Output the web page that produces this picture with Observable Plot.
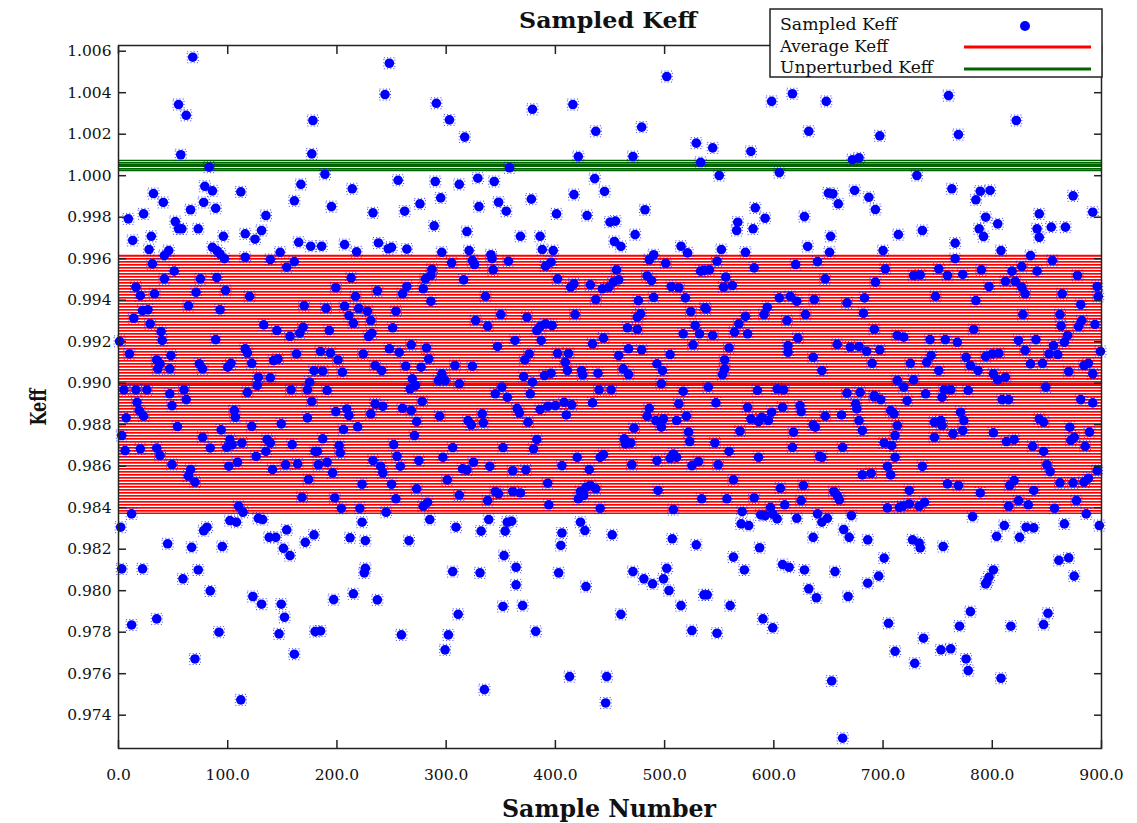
<!DOCTYPE html>
<html><head><meta charset="utf-8">
<script src="https://cdn.jsdelivr.net/npm/d3@7"></script>
<script src="https://cdn.jsdelivr.net/npm/@observablehq/plot@0.6"></script>
<style>
body{margin:0;background:#fff;}
#chart{position:relative;width:1137px;height:823px;}
</style></head><body><div id="chart"></div>
<script>
// [sample number, sampled Keff]
const samples = [
[68,1.00571],[55,1.00343],[62,1.00291],[57,1.00101],[83,1.00041],[178,1.00266],[177,1.00105],
[32,0.99914],[41,0.99871],[79,0.99949],[86,0.99927],[112,0.99922],[167,0.99958],[161,0.99879],[78,0.99871],[89,0.99843],[66,0.99836],[9,0.99792],[23,0.99816],[135,0.99808],[52,0.99779],[55,0.99744],[58,0.99744],[73,0.99744],[30,0.99708],[13,0.99688],[96,0.99708],[116,0.99720],[125,0.99694],[131,0.99736],[165,0.99679],[176,0.99660],[28,0.99644],[46,0.99639],[42,0.99615],[86,0.99655],[90,0.99639],[93,0.99623],[97,0.99600],[116,0.99607],[139,0.99596],[148,0.99631],[154,0.99559],[161,0.99586],[31,0.99575],[51,0.99540],[42,0.99503],[75,0.99503],[90,0.99509],[16,0.99463],[20,0.99422],[33,0.99431],[71,0.99438],[98,0.99447],[120,0.99418],[64,0.99373],[93,0.99354],[170,0.99373],[22,0.99350],[27,0.99354],[14,0.99313],[29,0.99286],[39,0.99249],[40,0.99206],[1,0.99202],[89,0.99210],[133,0.99281],[145,0.99254],[157,0.99226],[166,0.99241],[169,0.99270],[10,0.99141],[48,0.99133],[116,0.99166],[118,0.99146],[163,0.99141],[35,0.99112],[38,0.99093],[36,0.99069],[47,0.99069],[74,0.99093],[77,0.99069],[100,0.99077],[103,0.99096],[122,0.99096],[142,0.99109],[146,0.99117],[128,0.99029],[139,0.99026],[127,0.98989],[175,0.99005],[179,0.99061],[5,0.98968],[16,0.98968],[26,0.98968],[47,0.98949],[60,0.98968],[118,0.98956],[158,0.98968],[173,0.98968],
[248,1.00542],[244,1.00391],[291,1.00349],[303,1.00269],[317,1.00186],[189,1.00007],[358,1.00038],[214,0.99937],[256,0.99978],[290,0.99972],[312,0.99958],[329,0.99988],[344,0.99972],[295,0.99893],[195,0.99851],[233,0.99821],[262,0.99829],[276,0.99864],[330,0.99851],[348,0.99872],[355,0.99829],[289,0.99758],[319,0.99731],[186,0.99660],[207,0.99668],[218,0.99633],[238,0.99676],[247,0.99648],[250,0.99655],[264,0.99646],[296,0.99631],[321,0.99639],[341,0.99619],[342,0.99600],[305,0.99580],[324,0.99591],[326,0.99572],[357,0.99588],[287,0.99549],[286,0.99519],[281,0.99503],[343,0.99546],[213,0.99508],[316,0.99498],[199,0.99460],[237,0.99445],[264,0.99466],[260,0.99431],[279,0.99455],[217,0.99418],[286,0.99395],[336,0.99418],[190,0.99361],[207,0.99371],[211,0.99326],[215,0.99289],[220,0.99360],[228,0.99347],[231,0.99302],[254,0.99347],[350,0.99331],[327,0.99302],[338,0.99275],[251,0.99267],[193,0.99254],[232,0.99241],[229,0.99225],[347,0.99177],[185,0.99153],[194,0.99146],[201,0.99112],[224,0.99141],[248,0.99166],[257,0.99149],[268,0.99185],[282,0.99170],[284,0.99117],[187,0.99058],[205,0.99053],[235,0.99085],[241,0.99061],[263,0.99082],[277,0.99077],[308,0.99085],[324,0.99082],[269,0.99021],[272,0.98989],[267,0.98973],[296,0.99045],[299,0.99013],[293,0.99013],[312,0.98997],[191,0.98965],[351,0.98981],[345,0.98949],
[502,1.00478],[379,1.00320],[416,1.00343],[437,1.00214],[479,1.00234],[529,1.00157],[421,1.00092],[471,1.00092],[533,1.00064],[436,0.99986],[445,0.99924],[378,0.99887],[417,0.99909],[401,0.99816],[429,0.99808],[450,0.99776],[455,0.99781],[482,0.99836],[368,0.99708],[386,0.99708],[473,0.99716],[388,0.99644],[398,0.99639],[454,0.99683],[460,0.99659],[515,0.99660],[521,0.99628],[396,0.99583],[391,0.99564],[490,0.99619],[486,0.99595],[501,0.99578],[456,0.99546],[533,0.99540],[402,0.99503],[417,0.99479],[414,0.99463],[432,0.99474],[443,0.99455],[449,0.99463],[453,0.99487],[458,0.99498],[484,0.99517],[488,0.99495],[506,0.99466],[513,0.99460],[437,0.99403],[476,0.99398],[490,0.99414],[519,0.99411],[537,0.99363],[374,0.99318],[418,0.99331],[475,0.99318],[478,0.99334],[524,0.99345],[383,0.99254],[386,0.99273],[391,0.99286],[397,0.99278],[387,0.99206],[466,0.99267],[475,0.99260],[528,0.99278],[532,0.99238],[517,0.99238],[363,0.99206],[444,0.99217],[434,0.99190],[526,0.99185],[376,0.99141],[372,0.99112],[402,0.99144],[412,0.99144],[409,0.99101],[411,0.99061],[458,0.99133],[467,0.99166],[479,0.99161],[505,0.99138],[493,0.99093],[498,0.99061],[371,0.99032],[379,0.99005],[390,0.99037],[396,0.99048],[424,0.99061],[425,0.99040],[439,0.99048],[462,0.99069],[467,0.99042],[497,0.98997],[440,0.98968],[451,0.98968],[517,0.98961],[377,0.98949],
[617,1.00395],[598,1.00358],[648,1.00358],[632,1.00214],[697,1.00192],[544,1.00134],[579,1.00117],[550,1.00001],[605,1.00015],[672,1.00077],[678,1.00086],[650,0.99916],[654,0.99913],[674,0.99929],[659,0.99864],[687,0.99896],[693,0.99837],[583,0.99845],[592,0.99795],[628,0.99803],[567,0.99776],[566,0.99736],[581,0.99744],[652,0.99708],[714,0.99716],[552,0.99644],[574,0.99631],[631,0.99659],[651,0.99631],[700,0.99639],[548,0.99588],[640,0.99586],[620,0.99572],[582,0.99556],[536,0.99543],[541,0.99546],[702,0.99551],[556,0.99511],[554,0.99463],[562,0.99471],[647,0.99503],[693,0.99487],[605,0.99411],[615,0.99418],[621,0.99395],[637,0.99403],[667,0.99387],[683,0.99411],[538,0.99358],[594,0.99366],[591,0.99331],[574,0.99322],[568,0.99286],[564,0.99246],[576,0.99238],[612,0.99302],[629,0.99331],[682,0.99337],[544,0.99230],[622,0.99217],[692,0.99260],[713,0.99230],[559,0.99170],[555,0.99112],[555,0.99069],[553,0.99042],[613,0.99181],[613,0.99149],[636,0.99125],[658,0.99187],[670,0.99174],[678,0.99177],[685,0.99154],[697,0.99161],[690,0.99096],[644,0.99061],[540,0.98981],[585,0.98965],[603,0.98973],[609,0.98968],[667,0.98952],[679,0.98956],[692,0.98940],[713,0.99013],
[760,1.00386],[822,1.00266],[769,1.00198],[731,1.00001],[763,0.99937],[785,0.99884],[789,0.99925],[798,0.99929],[874,0.99903],[794,0.99800],[805,0.99768],[843,0.99816],[892,0.99824],[788,0.99744],[792,0.99707],[841,0.99744],[843,0.99703],[854,0.99752],[867,0.99752],[736,0.99736],[766,0.99675],[766,0.99600],[808,0.99639],[835,0.99615],[855,0.99591],[751,0.99551],[790,0.99546],[818,0.99540],[827,0.99562],[841,0.99540],[728,0.99519],[734,0.99522],[759,0.99519],[773,0.99524],[878,0.99519],[797,0.99466],[812,0.99491],[821,0.99491],[827,0.99463],[830,0.99431],[896,0.99466],[897,0.99418],[748,0.99418],[785,0.99398],[864,0.99431],[881,0.99379],[828,0.99331],[862,0.99331],[863,0.99276],[882,0.99302],[879,0.99273],[894,0.99283],[783,0.99259],[719,0.99222],[743,0.99210],[757,0.99210],[768,0.99197],[824,0.99206],[830,0.99158],[840,0.99210],[869,0.99230],[866,0.99197],[856,0.99181],[852,0.99141],[860,0.99138],[899,0.99153],[725,0.99096],[744,0.99133],[740,0.99101],[776,0.99125],[780,0.99085],[787,0.99061],[794,0.99128],[800,0.99141],[806,0.99144],[751,0.99061],[801,0.99045],[805,0.99016],[812,0.99029],[835,0.99093],[846,0.99096],[870,0.99056],[884,0.99085],[888,0.99096],[892,0.99045],[719,0.98981],[728,0.99016],[739,0.98949],[756,0.98968],[762,0.98968],[778,0.98965],[849,0.98981],
[17,0.98908],[19,0.98868],[23,0.98841],[49,0.98892],[62,0.98921],[7,0.98833],[54,0.98791],[106,0.98868],[107,0.98836],[94,0.98775],[122,0.98792],[149,0.98804],[173,0.98833],[177,0.98912],[3,0.98748],[77,0.98739],[102,0.98728],[113,0.98712],[99,0.98691],[104,0.98703],[136,0.98728],[139,0.98712],[159,0.98704],[6,0.98675],[20,0.98684],[35,0.98687],[38,0.98651],[84,0.98688],[135,0.98671],[126,0.98647],[180,0.98671],[49,0.98608],[66,0.98584],[64,0.98552],[70,0.98523],[101,0.98600],[109,0.98619],[141,0.98584],[153,0.98607],[164,0.98611],[174,0.98536],[168,0.98450],[110,0.98407],[114,0.98378],[12,0.98370],[2,0.98306],[81,0.98306],[78,0.98289],[102,0.98338],[108,0.98330],[128,0.98349],[132,0.98343],[154,0.98293],[138,0.98257],[144,0.98257],[151,0.98204],[157,0.98169],[171,0.98233],[179,0.98269],[45,0.98226],[67,0.98209],[95,0.98213],[3,0.98105],[22,0.98105],[73,0.98100],[59,0.98057],[84,0.97999],[123,0.97972],[131,0.97935],[149,0.97935],[152,0.97872],[35,0.97864],[12,0.97835],[92,0.97800],[147,0.97792],[180,0.97803],[70,0.97671],[161,0.97694],[112,0.97474],
[199,0.98863],[209,0.98876],[211,0.98844],[231,0.98852],[235,0.98900],[242,0.98889],[260,0.98879],[268,0.98868],[278,0.98912],[294,0.98841],[273,0.98815],[320,0.98820],[323,0.98799],[333,0.98852],[334,0.98809],[206,0.98777],[219,0.98790],[187,0.98732],[271,0.98748],[202,0.98699],[203,0.98664],[182,0.98671],[252,0.98704],[306,0.98690],[352,0.98690],[183,0.98607],[191,0.98619],[196,0.98568],[233,0.98627],[240,0.98599],[242,0.98568],[255,0.98648],[258,0.98600],[275,0.98627],[297,0.98643],[315,0.98587],[319,0.98582],[325,0.98619],[340,0.98599],[223,0.98513],[250,0.98513],[301,0.98534],[273,0.98491],[198,0.98447],[254,0.98443],[204,0.98397],[221,0.98397],[279,0.98407],[283,0.98426],[245,0.98378],[312,0.98461],[338,0.98434],[345,0.98478],[348,0.98467],[223,0.98330],[285,0.98343],[309,0.98306],[339,0.98343],[356,0.98330],[212,0.98255],[226,0.98241],[266,0.98241],[332,0.98287],[354,0.98287],[353,0.98169],[226,0.98108],[225,0.98086],[306,0.98092],[331,0.98086],[215,0.97985],[197,0.97957],[237,0.97956],[352,0.97924],[311,0.97886],[185,0.97806],[259,0.97787],[302,0.97787],[299,0.97715],[335,0.97523],
[356,0.98932],[365,0.98879],[367,0.98857],[386,0.98873],[393,0.98889],[400,0.98892],[408,0.98908],[415,0.98896],[410,0.98847],[434,0.98905],[375,0.98812],[486,0.98879],[484,0.98841],[492,0.98820],[496,0.98809],[497,0.98788],[499,0.98828],[511,0.98820],[520,0.98841],[513,0.98900],[472,0.98783],[522,0.98764],[523,0.98719],[383,0.98728],[380,0.98684],[463,0.98732],[464,0.98708],[469,0.98712],[420,0.98643],[441,0.98643],[444,0.98656],[406,0.98603],[431,0.98584],[493,0.98627],[508,0.98659],[511,0.98643],[505,0.98638],[470,0.98607],[525,0.98603],[531,0.98622],[361,0.98578],[373,0.98582],[393,0.98518],[361,0.98478],[368,0.98471],[423,0.98478],[428,0.98498],[432,0.98507],[437,0.98491],[426,0.98459],[421,0.98443],[394,0.98414],[441,0.98397],[494,0.98483],[508,0.98391],[534,0.98443],[360,0.98335],[406,0.98278],[405,0.98218],[423,0.98330],[427,0.98290],[452,0.98269],[507,0.98250],[529,0.98221],[364,0.98113],[403,0.98086],[471,0.98092],[481,0.98057],[489,0.98033],[499,0.98057],[502,0.98108],[364,0.98028],[428,0.98020],[504,0.98001],[536,0.97980],[370,0.97928],[460,0.97886],[515,0.97928],[382,0.97804],[525,0.97808],[413,0.97586],[447,0.97586],[446,0.97459],
[547,0.98905],[576,0.98884],[579,0.98828],[589,0.98836],[586,0.98815],[595,0.98820],[598,0.98860],[608,0.98884],[624,0.98892],[625,0.98863],[647,0.98841],[662,0.98847],[675,0.98900],[676,0.98876],[678,0.98820],[681,0.98772],[692,0.98934],[698,0.98921],[707,0.98868],[710,0.98852],[636,0.98799],[638,0.98788],[618,0.98764],[569,0.98769],[713,0.98796],[711,0.98748],[546,0.98712],[559,0.98671],[617,0.98691],[642,0.98648],[644,0.98643],[663,0.98691],[701,0.98712],[708,0.98699],[711,0.98643],[549,0.98607],[586,0.98643],[704,0.98599],[707,0.98558],[681,0.98558],[689,0.98566],[563,0.98534],[606,0.98494],[627,0.98507],[655,0.98478],[658,0.98459],[660,0.98438],[557,0.98443],[582,0.98447],[610,0.98414],[625,0.98434],[704,0.98399],[715,0.98402],[571,0.98381],[597,0.98402],[599,0.98370],[592,0.98362],[588,0.98365],[603,0.98346],[570,0.98322],[577,0.98314],[621,0.98349],[640,0.98370],[644,0.98330],[649,0.98349],[671,0.98362],[664,0.98295],[669,0.98257],[636,0.98257],[686,0.98245],[587,0.98207],[563,0.98162],[701,0.98157],[608,0.98126],[614,0.98113],[573,0.98100],[628,0.98100],[656,0.98092],[696,0.98070],[686,0.98036],[632,0.98009],[639,0.97966],[539,0.97980],[668,0.97972],[560,0.97928],[590,0.97864],[599,0.97821],[548,0.97795],[705,0.97843],[711,0.97708],[653,0.97565],[663,0.97289],
[754,0.98932],[722,0.98916],[809,0.98921],[815,0.98921],[881,0.98921],[892,0.98905],[771,0.98860],[774,0.98820],[773,0.98772],[747,0.98812],[753,0.98820],[754,0.98796],[843,0.98828],[847,0.98812],[871,0.98788],[889,0.98764],[747,0.98739],[764,0.98756],[801,0.98761],[813,0.98719],[820,0.98728],[875,0.98739],[872,0.98724],[837,0.98696],[847,0.98671],[885,0.98696],[736,0.98599],[850,0.98607],[853,0.98574],[896,0.98579],[862,0.98520],[874,0.98520],[884,0.98523],[888,0.98542],[759,0.98515],[769,0.98507],[816,0.98507],[820,0.98531],[724,0.98483],[789,0.98471],[838,0.98483],[718,0.98407],[724,0.98418],[733,0.98407],[738,0.98426],[815,0.98407],[824,0.98434],[833,0.98414],[857,0.98397],[877,0.98434],[886,0.98370],[782,0.98357],[811,0.98314],[831,0.98306],[838,0.98303],[866,0.98322],[898,0.98314],[804,0.98262],[825,0.98257],[727,0.98245],[733,0.98230],[734,0.98206],[755,0.98213],[861,0.98146],[870,0.98158],[875,0.98070],[801,0.98100],[797,0.98065],[794,0.98033],[795,0.98041],[780,0.97899],[851,0.97891],[847,0.97837],[770,0.97829],[817,0.97829],[737,0.97771],[753,0.97715],[762,0.97720],[729,0.97650],[776,0.97671],[778,0.97615],[808,0.97578]
];

const averageKeff = 0.98994;
const averageSigma = 0.00621;
const unperturbedKeff = 1.00049;
const unperturbedSigma = 0.00024;

const xTicks = [0, 100, 200, 300, 400, 500, 600, 700, 800, 900];
const yTicks = [0.974, 0.976, 0.978, 0.980, 0.982, 0.984, 0.986, 0.988, 0.990, 0.992, 0.994, 0.996, 0.998, 1.000, 1.002, 1.004, 1.006];
const legendLabels = ["Sampled Keff", "Average Keff", "Unperturbed Keff"];
const titleText = "Sampled Keff";
const xLabel = "Sample Number";
const yLabel = "Keff";

const BLUE = "#0000ff", RED = "#ff0000", GREEN = "#006400";
const FONT = "DejaVu Serif";

const xMin = xTicks[0], xMax = xTicks[xTicks.length - 1];
const bands = [
  {lo: averageKeff - averageSigma, hi: averageKeff + averageSigma, mid: averageKeff, fill: "url(#hatchRed)", color: RED, key: "avg"},
  {lo: unperturbedKeff - unperturbedSigma, hi: unperturbedKeff + unperturbedSigma, mid: unperturbedKeff, fill: "url(#hatchGreen)", color: GREEN, key: "unp"}
];
const edges = bands.flatMap(b => [{v: b.lo, color: b.color}, {v: b.hi, color: b.color}]);

const plot = Plot.plot({
  width: 1137, height: 823,
  marginLeft: 118, marginRight: 36, marginTop: 45, marginBottom: 75,
  x: {domain: [xMin, xMax], label: null},
  y: {domain: [0.972395, 1.006275], label: null},
  style: {fontFamily: FONT, fontSize: "15.5px", color: "#111", background: "white", overflow: "visible"},
  marks: [
    Plot.rect(bands, {x1: () => xMin, x2: () => xMax, y1: "lo", y2: "hi", fill: "fill"}),
    Plot.ruleY(edges, {y: "v", stroke: "color", strokeWidth: 1.5}),
    Plot.ruleY(bands, {y: "mid", stroke: "color", strokeWidth: 3}),
    Plot.dot(samples, {x: d => d[0], y: d => d[1], symbol: "square", r: 6.2, fill: "none", stroke: BLUE, strokeWidth: 1, strokeDasharray: "1 2.2", strokeOpacity: 0.75}),
    Plot.dot(samples, {x: d => d[0], y: d => d[1], r: 4.8, fill: BLUE, stroke: "none"}),
    Plot.frame({stroke: "#222", strokeWidth: 1.5}),
    Plot.axisY(yTicks, {anchor: "left", tickSize: 0, tickPadding: 7, tickFormat: d3.format(".3f"), label: null}),
    Plot.axisY(yTicks, {anchor: "left", tickSize: 8, dx: 8, text: null, label: null, stroke: "#222", strokeWidth: 1.5}),
    Plot.axisY(yTicks, {anchor: "right", tickSize: 8, dx: -8, text: null, label: null, stroke: "#222", strokeWidth: 1.5}),
    Plot.axisX(xTicks, {anchor: "bottom", tickSize: 0, tickPadding: 20, tickFormat: d3.format(".1f"), label: null}),
    Plot.axisX(xTicks, {anchor: "bottom", tickSize: 8, dy: -8, text: null, label: null, stroke: "#222", strokeWidth: 1.5}),
    Plot.axisX(xTicks, {anchor: "top", tickSize: 8, dy: 8, text: null, label: null, stroke: "#222", strokeWidth: 1.5})
  ]
});

const svg = d3.select(plot);
const defs = svg.insert("defs", ":first-child");
function hatch(id, color) {
  const p = defs.append("pattern").attr("id", id).attr("patternUnits", "userSpaceOnUse")
    .attr("width", 10).attr("height", 3);
  p.append("rect").attr("width", 10).attr("height", 3).attr("fill", "#fff");
  p.append("rect").attr("width", 10).attr("height", 1.7).attr("fill", color);
}
hatch("hatchRed", RED);
hatch("hatchGreen", GREEN);

// titles
svg.append("text").text(titleText)
  .attr("x", 608).attr("y", 28).attr("text-anchor", "middle")
  .attr("font-family", FONT).attr("font-weight", "bold").attr("font-size", 22)
  .attr("textLength", 178).attr("lengthAdjust", "spacingAndGlyphs").attr("fill", "#111");
svg.append("text").text(xLabel)
  .attr("x", 609).attr("y", 817).attr("text-anchor", "middle")
  .attr("font-family", FONT).attr("font-weight", "bold").attr("font-size", 24)
  .attr("textLength", 214).attr("lengthAdjust", "spacingAndGlyphs").attr("fill", "#111");
svg.append("text").text(yLabel)
  .attr("transform", "translate(46,407) rotate(-90)").attr("text-anchor", "middle")
  .attr("font-family", FONT).attr("font-weight", "bold").attr("font-size", 23)
  .attr("textLength", 37).attr("lengthAdjust", "spacingAndGlyphs").attr("fill", "#111");

// legend
const lg = svg.append("g").attr("text-anchor", "start");
lg.append("rect").attr("x", 770).attr("y", 9).attr("width", 332).attr("height", 68)
  .attr("fill", "#fff").attr("stroke", "#222").attr("stroke-width", 1.5);
const rowsY = [30, 52, 73];
const textLens = [117, 108, 153];
legendLabels.forEach((t, i) => {
  lg.append("text").text(t).attr("x", 780).attr("y", rowsY[i]).attr("text-anchor", "start")
    .attr("font-family", FONT).attr("font-size", 16).attr("fill", "#111")
    .attr("textLength", textLens[i]).attr("lengthAdjust", "spacingAndGlyphs");
});
lg.append("circle").attr("cx", 1025).attr("cy", 26).attr("r", 5).attr("fill", BLUE);
lg.append("line").attr("x1", 964).attr("x2", 1091).attr("y1", 47).attr("y2", 47).attr("stroke", RED).attr("stroke-width", 3);
lg.append("line").attr("x1", 964).attr("x2", 1091).attr("y1", 69).attr("y2", 69).attr("stroke", GREEN).attr("stroke-width", 3);

document.getElementById("chart").appendChild(plot);
</script>
</body></html>
